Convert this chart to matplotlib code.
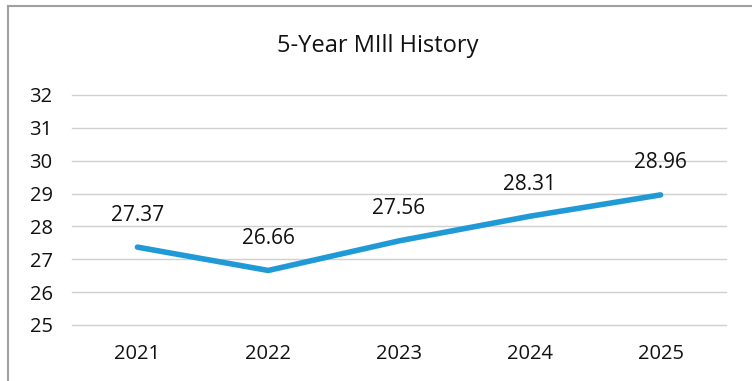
import matplotlib.pyplot as plt
from matplotlib.lines import Line2D

# Data
years = ["2021", "2022", "2023", "2024", "2025"]
mill = [27.37, 26.66, 27.56, 28.31, 28.96]
yticks = [25, 26, 27, 28, 29, 30, 31, 32]

plt.rcParams["font.family"] = ["Open Sans", "DejaVu Sans"]

W, H = 752, 381
fig = plt.figure(figsize=(W / 100, H / 100), dpi=100)

# plot area in pixels: x 72..726, y 95 (top=32) .. 325 (bottom=25)
ax = fig.add_axes([72 / W, (H - 325) / H, (726 - 72) / W, (325 - 95) / H])

xs = list(range(len(years)))
ax.plot(xs, mill, color="#1f9ad6", linewidth=4, solid_capstyle="round", zorder=3)

for x, v in zip(xs, mill):
    ax.annotate(f"{v:.2f}", (x, v), xytext=(0, 23), textcoords="offset points",
                ha="center", va="center", fontsize=15, color="#111111")

ax.set_xlim(-0.5, len(years) - 0.5)
ax.set_ylim(25, 32)
ax.set_yticks(yticks)
ax.set_yticklabels([str(t) for t in yticks], fontsize=14.5, color="#111111")
ax.set_xticks(xs)
ax.set_xticklabels(years, fontsize=14.5, color="#111111")
ax.tick_params(length=0, axis="y", pad=14)
ax.tick_params(length=0, axis="x", pad=14)
ax.grid(axis="y", color="#d0d0d0", linewidth=1)
for gl in ax.get_ygridlines():
    gl.set_clip_on(False)
ax.set_axisbelow(True)
for s in ax.spines.values():
    s.set_visible(False)

fig.text(378 / W, 1 - 46 / H, "5-Year MIll History", ha="center", va="center",
         fontsize=17, color="#111111")

# chart frame (only top and left edges visible in the crop)
fig.add_artist(Line2D([8 / W, 8 / W], [0, 1 - 6 / H], color="#a0a0a0", linewidth=1.5))
fig.add_artist(Line2D([8 / W, 1], [1 - 6 / H, 1 - 6 / H], color="#a0a0a0", linewidth=1.5))

fig.savefig("out.png", dpi=100)
